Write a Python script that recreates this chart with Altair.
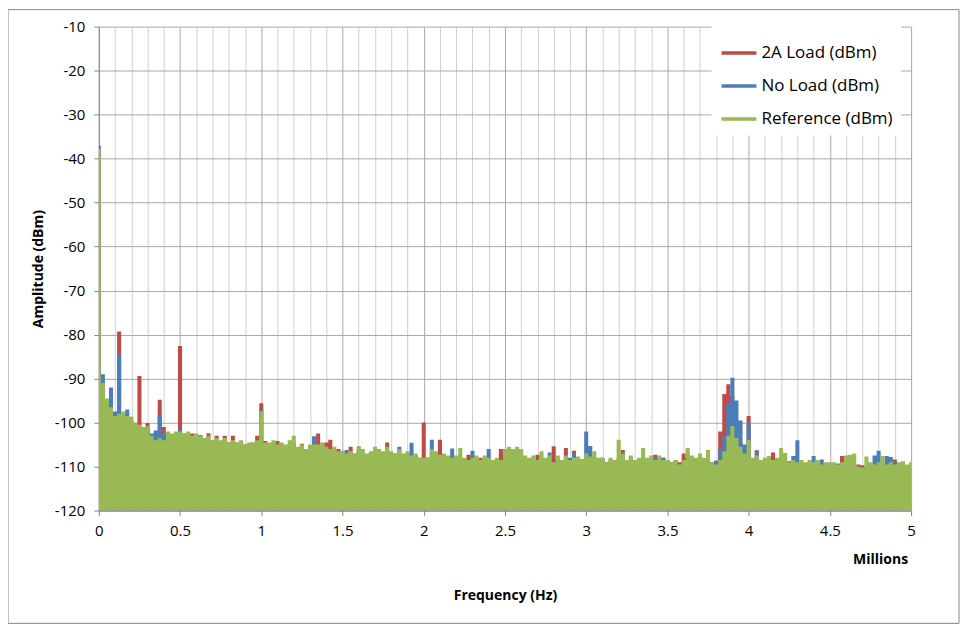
import altair as alt
import pandas as pd

# Frequency grid in millions of Hz (0 .. 5 M, 25 kHz bins)
FREQ_M = [round(i * 0.025, 3) for i in range(201)]

SERIES = ["2A Load (dBm)", "No Load (dBm)", "Reference (dBm)"]
COLORS = ["#be4b48", "#4a7ebb", "#98b954"]

LOAD_2A = [
    -38.5, -96.7, -96.5, -98, -98, -79.3, -99, -99.5, -99.5, -100.5, -89.4, -101.5, -100.1, -103, -103, -94.8, -101, -102.5, -103, -103,
    -82.6, -102.5, -103, -102.5, -103.5, -103, -103.5, -102.4, -104, -103, -104.5, -103, -104.5, -103, -104.5, -104.6, -105, -105, -104.5, -103,
    -95.6, -104.2, -105, -105.5, -104.2, -105.5, -106, -105, -105.5, -106, -104.8, -106.5, -106, -106, -102.5, -106.5, -104.5, -103.9, -106.5, -106,
    -106.5, -107, -105.5, -107.5, -106, -107, -107.5, -107, -106.5, -107, -107.5, -104.5, -107, -107.5, -107, -108, -107.5, -108, -107.5, -108.5,
    -100, -108, -107, -107.5, -103.9, -108, -108, -108.5, -108.5, -108, -108.5, -107.3, -107.5, -108.5, -108, -109, -108.5, -108.5, -108.5, -106,
    -107, -107, -107.5, -107, -107.5, -108.5, -108.5, -108.5, -107.3, -109, -108.5, -108.5, -105.4, -108.5, -109, -105.8, -109, -106.4, -108.5, -109,
    -108, -108.5, -108, -108.5, -108.5, -109, -108.5, -108.5, -108, -106.2, -108.5, -108, -108.5, -108.5, -108.5, -108.5, -108.5, -107.3, -108, -108,
    -108.5, -109, -108.5, -109, -107, -108, -108.5, -108.5, -108, -108.5, -108.5, -109, -108.6, -102, -93.5, -91.3, -94, -100, -104.5, -107.5,
    -98.5, -109.6, -106.3, -109, -108.5, -109, -106.8, -109, -108.5, -109, -108.8, -109, -109.5, -109.5, -109.5, -110, -109.5, -110, -109.5, -110,
    -110, -109.7, -110, -107.6, -110, -110, -110, -109.5, -109.7, -110, -110, -110, -110, -110, -110, -110, -108.4, -110, -110, -111, -110.5,
]

NO_LOAD = [
    -37, -89, -96, -92, -97.5, -84.5, -98, -97, -99.5, -100.5, -101, -101.5, -101.5, -102.5, -101.8, -98.2, -102.5, -103, -103, -103,
    -101.6, -103, -103.5, -103, -103.5, -102.8, -104, -104.5, -104.5, -104, -105, -104.5, -105.5, -104.5, -105, -105.5, -105.5, -105, -105.5, -104.5,
    -97, -105, -105.5, -105, -105.5, -105, -106, -105, -104.5, -106, -105.3, -106, -106, -103.1, -106.5, -106, -106.5, -106, -106.5, -106.5,
    -107, -106.2, -107.5, -107, -106.5, -107, -107.5, -107, -107, -107.5, -107, -106.5, -107.5, -107, -105.5, -107.5, -107, -104.6, -107.5, -108,
    -108.5, -108, -103.9, -107.5, -107.5, -108, -108, -105.9, -108.5, -108, -108.5, -108.5, -106.4, -108.5, -108.5, -108.5, -106, -108.5, -109, -108.5,
    -107, -107.5, -107, -107.5, -107.5, -108, -108.5, -108.5, -108.5, -108.5, -108.5, -106.8, -109, -108, -108.5, -108.5, -108, -107, -108.5, -108.5,
    -102, -105.3, -108, -108.5, -108, -109, -109, -108.5, -108.5, -108, -109, -108.5, -108.5, -108.5, -108, -108.5, -108.5, -108, -108.5, -108,
    -108.5, -109, -109, -109.5, -109, -108.5, -109, -108.5, -108.5, -108.5, -108.5, -109, -108.8, -106, -103, -95.5, -89.8, -95, -99.5, -105,
    -100, -108.5, -106.6, -109, -109, -109.5, -109.5, -109, -109, -109.5, -109.5, -107.6, -104, -109.5, -109.5, -109.5, -107.6, -109.5, -108.4, -109.5,
    -110, -110, -109.3, -110, -110, -110, -110, -110.5, -110.5, -110, -110, -107.5, -106.4, -110, -107.6, -107.8, -109, -110, -110, -110, -110,
]

REFERENCE = [
    -37.8, -91, -94.5, -96.5, -98.5, -98, -97.5, -98.5, -98.6, -100, -100.5, -101, -100.8, -103, -104, -103.5, -104, -102, -102.5, -102,
    -102, -102.5, -102, -103, -102.5, -103, -103.5, -103, -104, -103.5, -104, -103.5, -104.5, -104, -104.5, -104, -105, -104.5, -104.5, -104,
    -97.4, -104.5, -104.5, -104, -105, -104.5, -105, -104, -103, -105.5, -105, -106, -105, -105, -105, -104.5, -105.5, -106, -105.5, -106.5,
    -106.5, -107, -106.5, -107, -105.3, -106, -107, -106.5, -105.5, -106, -106.5, -105.5, -106.5, -107, -106, -107, -106.5, -107.5, -107, -108,
    -108, -108, -106, -106.5, -107.3, -107, -107.5, -108, -107.5, -105.8, -108, -108.5, -108, -107.5, -108.5, -107.5, -108, -108.5, -108, -108.5,
    -106, -105.5, -106, -105.5, -106, -107.5, -108, -107.5, -108.5, -106.5, -108, -107.5, -109, -107.5, -108.5, -107.5, -108.5, -108, -107.7, -108.3,
    -107, -107.7, -106.5, -108, -108, -109, -108, -108.5, -103.9, -107, -108.5, -107.5, -108.5, -108, -105.8, -108, -107.5, -108.5, -107.5, -108.5,
    -108.5, -109, -108.5, -109.5, -108.5, -105.8, -107.5, -108, -107, -108, -106.2, -109, -109.5, -108.5, -106.5, -103, -100.8, -103.5, -105.5, -107,
    -103.9, -108, -107.5, -108.5, -108, -107.6, -108.5, -108, -105.8, -106.9, -109, -108.5, -109, -108.5, -109, -108.5, -109, -108.5, -109.5, -109,
    -109, -109, -109.5, -109, -107.5, -107.3, -107, -110, -110.2, -107.7, -109, -109.5, -109, -107.6, -109.5, -109, -109.5, -109, -108.8, -109.5, -109,
]

X_TICKS = [round(i / 10, 1) for i in range(51)]
Y_TICKS = [-10, -20, -30, -40, -50, -60, -70, -80, -90, -100, -110, -120]

FONT = "Open Sans"
MAJOR = "abs(datum.value * 2 - round(datum.value * 2)) < 0.001"

def frame(series_name, values):
    return pd.DataFrame({"freq": FREQ_M, "value": values, "series": series_name})

color_scale = alt.Scale(domain=SERIES, range=COLORS)

x_axis = alt.Axis(
    values=X_TICKS,
    labelExpr=f"{MAJOR} ? format(datum.value, '~g') : ''",
    labelFlush=False, labelOverlap=False,
    grid=True,
    gridColor={"condition": {"test": MAJOR, "value": "#a8a8a8"}, "value": "#d0d0d0"},
    tickColor={"condition": {"test": MAJOR, "value": "#868686"}, "value": "transparent"},
    tickSize=5, domainColor="#868686",
    labelFont=FONT, labelFontSize=15, labelColor="#000000", labelPadding=8,
    titleFont=FONT, titleFontSize=14, titleFontWeight="bold", titleColor="#000000",
    titleX=407, titleY=85, titleBaseline="middle", titleAlign="center",
)

y_axis = alt.Axis(
    values=Y_TICKS,
    labelExpr="'' + datum.value",
    grid=True, gridColor="#a8a8a8",
    tickColor="#868686", tickSize=5, domainColor="#868686",
    labelFont=FONT, labelFontSize=15, labelColor="#000000", labelPadding=9,
    titleFont=FONT, titleFontSize=14, titleFontWeight="bold", titleColor="#000000",
    titleX=-60, titleY=242.5, titleAngle=-90, titleBaseline="middle", titleAlign="center",
)

legend = alt.Legend(
    title=None, orient="none", legendX=614, legendY=-1,
    symbolType="stroke", symbolSize=1225, symbolStrokeWidth=3.5,
    symbolStrokeColor={"expr": "scale('color', datum.value)"},
    labelFont=FONT, labelFontSize=17, labelColor="#000000", labelOffset=3,
    fillColor="#ffffff", padding=8, rowPadding=5,
)

def layer(series_name, values):
    return alt.Chart(frame(series_name, values)).mark_area(interpolate="step", clip=True).encode(
        x=alt.X("freq:Q", title="Frequency (Hz)",
                scale=alt.Scale(domain=[0, 5], nice=False, zero=False), axis=x_axis),
        y=alt.Y("value:Q", title="Amplitude (dBm)",
                scale=alt.Scale(domain=[-120, -10], nice=False, zero=False), axis=y_axis),
        y2=alt.datum(-120),
        color=alt.Color("series:N", scale=color_scale, legend=legend),
    )

border = alt.Chart(pd.DataFrame({"k": [0]})).mark_rect(
    fill="transparent", stroke="#868686", strokeWidth=1
).encode(x=alt.value(-91), x2=alt.value(862), y=alt.value(-17), y2=alt.value(598))

millions = alt.Chart(pd.DataFrame({"t": ["Millions"]})).mark_text(
    font=FONT, fontSize=14, fontWeight="bold", align="right", baseline="middle", color="#000000"
).encode(text="t:N", x=alt.value(811), y=alt.value(535))

chart = alt.layer(
    border,
    layer(SERIES[0], LOAD_2A),
    layer(SERIES[1], NO_LOAD),
    layer(SERIES[2], REFERENCE),
    millions,
).properties(
    width=814, height=485,
    autosize=alt.AutoSizeParams(type="none"),
    padding={"left": 91, "top": 18, "right": 50, "bottom": 116},
    background="#ffffff",
).configure_view(strokeWidth=0)

chart.save("out.html", embed_options={"renderer": "svg", "actions": False})
